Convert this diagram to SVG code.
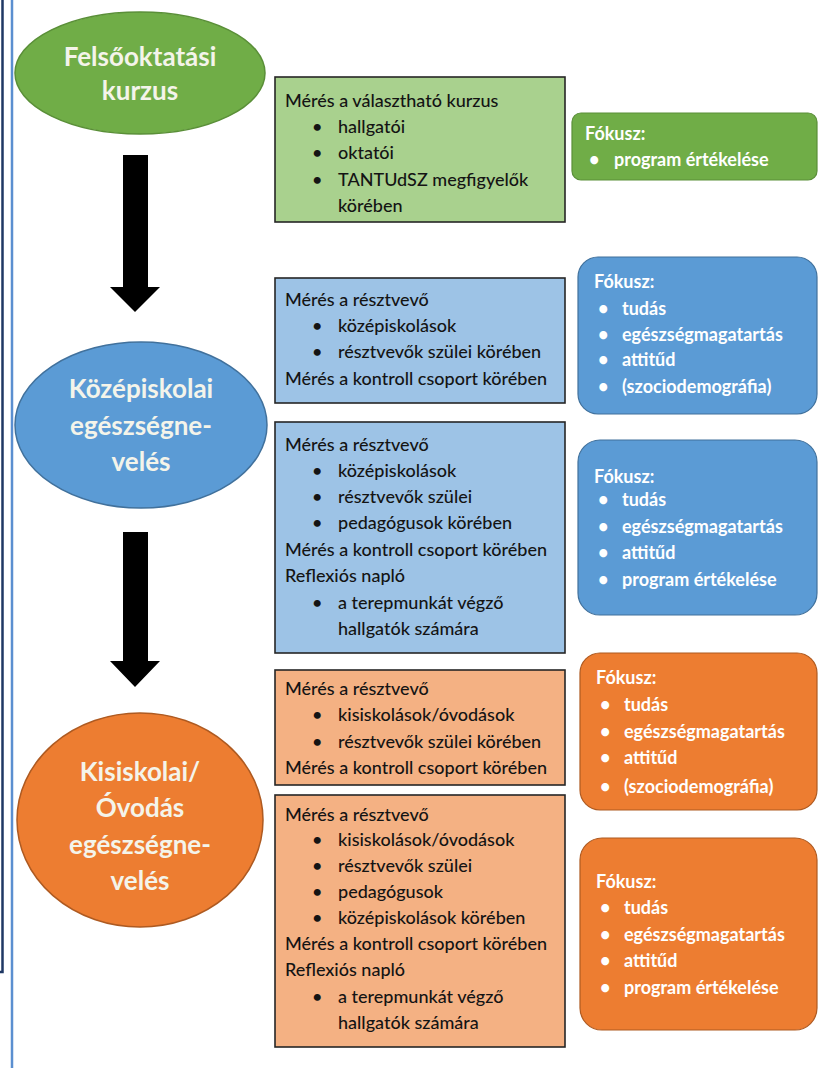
<svg xmlns="http://www.w3.org/2000/svg" width="819" height="1068" viewBox="0 0 819 1068">
<style>
.et{font-family:Lato,"Liberation Sans",sans-serif;font-weight:bold;font-size:26px;fill:#f4f4ea;text-anchor:middle}
.bx{font-family:Lato,"Liberation Sans",sans-serif;font-weight:500;font-size:18px;fill:#141414}
.fc{font-family:Lato,"Liberation Sans",sans-serif;font-weight:bold;font-size:18px;fill:#ffffff}
.box{stroke:#262626;stroke-width:1.6}
</style>
<rect width="819" height="1068" fill="#ffffff"/>
<g id="frame">
<path d="M2.5,0 V972 H0" fill="none" stroke="#1f3864" stroke-width="2.5"/>
<line x1="12" y1="0" x2="12" y2="1068" stroke="#5b8fd0" stroke-width="2.5"/>
</g>
<g id="connectors">
<polygon points="123,155 148,155 148,287 160,287 135,312 110,287 123,287" fill="#000"/>
<polygon points="123,532 148,532 148,661 160,661 135,687 110,661 123,661" fill="#000"/>
</g>
<g id="n-felso">
<ellipse cx="140" cy="73" rx="125" ry="61" fill="#70ad47" stroke="#5a8f38" stroke-width="1.5"/>
<text class="et" x="140" y="66">Felsőoktatási</text>
<text class="et" x="140" y="100">kurzus</text>
</g>
<g id="n-kozep">
<ellipse cx="141" cy="425" rx="126" ry="83" fill="#5b9bd5" stroke="#41719c" stroke-width="1.5"/>
<text class="et" x="141" y="398">Középiskolai</text>
<text class="et" x="141" y="435">egészségne-</text>
<text class="et" x="141" y="471">velés</text>
</g>
<g id="n-kis">
<ellipse cx="140" cy="820" rx="123" ry="107" fill="#ed7d31" stroke="#ae5a21" stroke-width="1.5"/>
<text class="et" x="140" y="781">Kisiskolai/</text>
<text class="et" x="140" y="817">Óvodás</text>
<text class="et" x="140" y="854">egészségne-</text>
<text class="et" x="140" y="890">velés</text>
</g>
<g id="b-green">
<rect class="box" x="275" y="77" width="290" height="145" fill="#a9d18e"/>
<text class="bx" x="285" y="107">Mérés a választható kurzus</text>
<text class="bx" x="312" y="133">•</text><text class="bx" x="338" y="133">hallgatói</text>
<text class="bx" x="312" y="159">•</text><text class="bx" x="338" y="159">oktatói</text>
<text class="bx" x="312" y="186">•</text><text class="bx" x="338" y="186">TANTUdSZ megfigyelők</text>
<text class="bx" x="338" y="212">körében</text>
</g>
<g id="f-green">
<rect x="572" y="113" width="245" height="67" rx="9" fill="#70ad47" stroke="#5a8f38" stroke-width="1.2"/>
<text class="fc" x="585" y="140">Fókusz:</text>
<text class="fc" x="589" y="166">•</text><text class="fc" x="614" y="166">program értékelése</text>
</g>
<g id="b-blue1">
<rect class="box" x="275" y="278" width="290" height="125" fill="#9dc3e6"/>
<text class="bx" x="285" y="306">Mérés a résztvevő</text>
<text class="bx" x="312" y="332">•</text><text class="bx" x="338" y="332">középiskolások</text>
<text class="bx" x="312" y="358">•</text><text class="bx" x="338" y="358">résztvevők szülei körében</text>
<text class="bx" x="285" y="385">Mérés a kontroll csoport körében</text>
</g>
<g id="f-blue1">
<rect x="578" y="257" width="239" height="157" rx="20" fill="#5b9bd5" stroke="#41719c" stroke-width="1.2"/>
<text class="fc" x="594" y="288">Fókusz:</text>
<text class="fc" x="598" y="315">•</text><text class="fc" x="622" y="315">tudás</text>
<text class="fc" x="598" y="341">•</text><text class="fc" x="622" y="341">egészségmagatartás</text>
<text class="fc" x="598" y="366">•</text><text class="fc" x="622" y="366">attitűd</text>
<text class="fc" x="598" y="393">•</text><text class="fc" x="622" y="393">(szociodemográfia)</text>
</g>
<g id="b-blue2">
<rect class="box" x="275" y="422" width="290" height="231" fill="#9dc3e6"/>
<text class="bx" x="285" y="451">Mérés a résztvevő</text>
<text class="bx" x="312" y="477">•</text><text class="bx" x="338" y="477">középiskolások</text>
<text class="bx" x="312" y="503">•</text><text class="bx" x="338" y="503">résztvevők szülei</text>
<text class="bx" x="312" y="529">•</text><text class="bx" x="338" y="529">pedagógusok körében</text>
<text class="bx" x="285" y="556">Mérés a kontroll csoport körében</text>
<text class="bx" x="285" y="582">Reflexiós napló</text>
<text class="bx" x="312" y="609">•</text><text class="bx" x="338" y="609">a terepmunkát végző</text>
<text class="bx" x="338" y="635">hallgatók számára</text>
</g>
<g id="f-blue2">
<rect x="578" y="440" width="239" height="175" rx="22" fill="#5b9bd5" stroke="#41719c" stroke-width="1.2"/>
<text class="fc" x="594" y="483">Fókusz:</text>
<text class="fc" x="598" y="506">•</text><text class="fc" x="622" y="506">tudás</text>
<text class="fc" x="598" y="533">•</text><text class="fc" x="622" y="533">egészségmagatartás</text>
<text class="fc" x="598" y="559">•</text><text class="fc" x="622" y="559">attitűd</text>
<text class="fc" x="598" y="586">•</text><text class="fc" x="622" y="586">program értékelése</text>
</g>
<g id="b-orange1">
<rect class="box" x="275" y="670" width="290" height="115" fill="#f4b183"/>
<text class="bx" x="285" y="695">Mérés a résztvevő</text>
<text class="bx" x="312" y="721">•</text><text class="bx" x="338" y="721">kisiskolások/óvodások</text>
<text class="bx" x="312" y="748">•</text><text class="bx" x="338" y="748">résztvevők szülei körében</text>
<text class="bx" x="285" y="774">Mérés a kontroll csoport körében</text>
</g>
<g id="f-orange1">
<rect x="580" y="653" width="237" height="157" rx="20" fill="#ed7d31" stroke="#ae5a21" stroke-width="1.2"/>
<text class="fc" x="596" y="684">Fókusz:</text>
<text class="fc" x="600" y="711">•</text><text class="fc" x="624" y="711">tudás</text>
<text class="fc" x="600" y="738">•</text><text class="fc" x="624" y="738">egészségmagatartás</text>
<text class="fc" x="600" y="764">•</text><text class="fc" x="624" y="764">attitűd</text>
<text class="fc" x="600" y="793">•</text><text class="fc" x="624" y="793">(szociodemográfia)</text>
</g>
<g id="b-orange2">
<rect class="box" x="275" y="795" width="290" height="252" fill="#f4b183"/>
<text class="bx" x="285" y="821">Mérés a résztvevő</text>
<text class="bx" x="312" y="846">•</text><text class="bx" x="338" y="846">kisiskolások/óvodások</text>
<text class="bx" x="312" y="872">•</text><text class="bx" x="338" y="872">résztvevők szülei</text>
<text class="bx" x="312" y="898">•</text><text class="bx" x="338" y="898">pedagógusok</text>
<text class="bx" x="312" y="924">•</text><text class="bx" x="338" y="924">középiskolások körében</text>
<text class="bx" x="285" y="950">Mérés a kontroll csoport körében</text>
<text class="bx" x="285" y="976">Reflexiós napló</text>
<text class="bx" x="312" y="1003">•</text><text class="bx" x="338" y="1003">a terepmunkát végző</text>
<text class="bx" x="338" y="1029">hallgatók számára</text>
</g>
<g id="f-orange2">
<rect x="580" y="838" width="237" height="192" rx="22" fill="#ed7d31" stroke="#ae5a21" stroke-width="1.2"/>
<text class="fc" x="596" y="888">Fókusz:</text>
<text class="fc" x="600" y="914">•</text><text class="fc" x="624" y="914">tudás</text>
<text class="fc" x="600" y="941">•</text><text class="fc" x="624" y="941">egészségmagatartás</text>
<text class="fc" x="600" y="967">•</text><text class="fc" x="624" y="967">attitűd</text>
<text class="fc" x="600" y="994">•</text><text class="fc" x="624" y="994">program értékelése</text>
</g>
</svg>
